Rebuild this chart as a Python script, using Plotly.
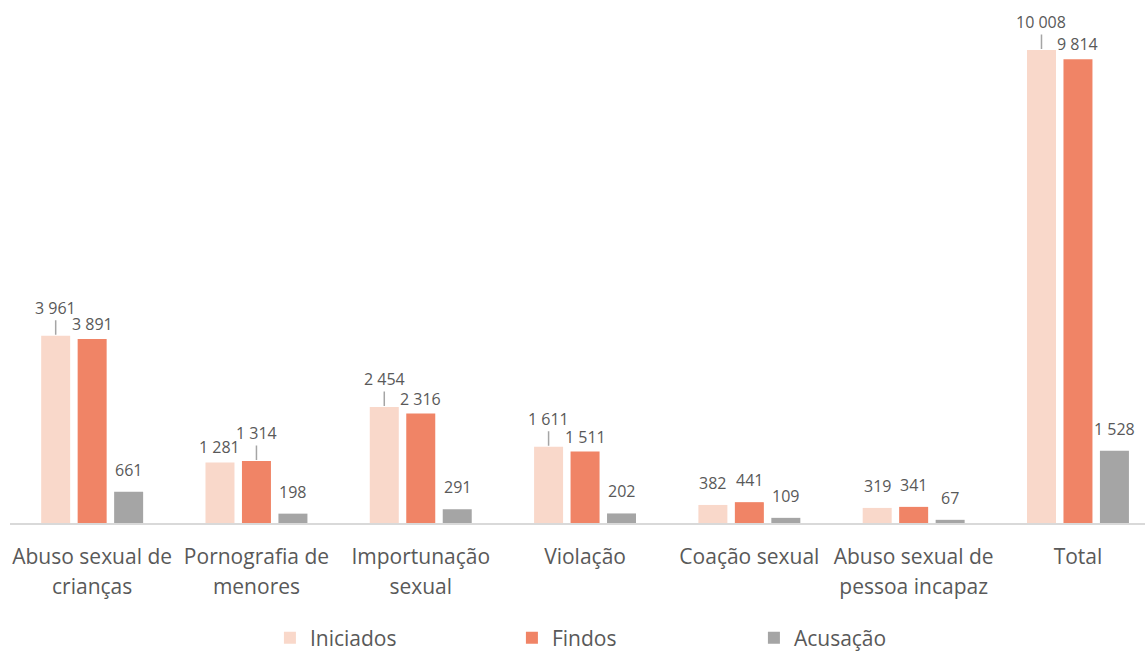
import plotly.graph_objects as go

categories = ["Abuso sexual de<br>crianças", "Pornografia de<br>menores", "Importunação<br>sexual",
              "Violação", "Coação sexual", "Abuso sexual de<br>pessoa incapaz", "Total"]
iniciados = [3961, 1281, 2454, 1611, 382, 319, 10008]
findos = [3891, 1314, 2316, 1511, 441, 341, 9814]
acusacao = [661, 198, 291, 202, 109, 67, 1528]
series_names = ["Iniciados", "Findos", "Acusação"]
colors = ["#F9D8CA", "#F08466", "#A5A5A5"]

# labels that use a leader line: (series index, category index)
leader = {(0, 0), (0, 2), (0, 3), (0, 6), (1, 1)}
# labels pushed closer to their bar because of a neighbour
close = {(1, 0), (1, 2), (1, 3), (1, 6), (0, 1)}

BARGAP = 0.334
GROUPGAP = 0.205
TXT = "#595959"
FONT = "Open Sans"
TICK_SIZE = 21

line1 = [c.split("<br>")[0] for c in categories]
line2 = [c.split("<br>")[1] if "<br>" in c else "" for c in categories]

x = list(range(len(categories)))
fig = go.Figure()
all_series = [iniciados, findos, acusacao]
for name, vals, col in zip(series_names, all_series, colors):
    fig.add_trace(go.Bar(x=x, y=vals, name=name, marker=dict(color=col, line=dict(width=0)),
                         hoverinfo="skip"))
# carrier for the second line of the category labels
fig.add_trace(go.Scatter(x=x, y=[None] * len(x), xaxis="x2", mode="markers",
                         showlegend=False, hoverinfo="skip"))

def fmt(v):
    return f"{v:,}".replace(",", " ")

annotations = []
for s, vals in enumerate(all_series):
    for i, v in enumerate(vals):
        xp = i + (s - 1) * (1 - BARGAP) / 3
        if (s, i) in leader:
            annotations.append(dict(x=xp, y=v, xref="x", yref="y", text=fmt(v),
                                    showarrow=True, arrowhead=0, arrowwidth=1.5,
                                    arrowcolor="#A5A5A5", ax=0, ay=-28, standoff=1,
                                    font=dict(family=FONT, size=16, color=TXT)))
        else:
            off = 15 if (s, i) in close else 22
            annotations.append(dict(x=xp, y=v, xref="x", yref="y", text=fmt(v),
                                    showarrow=False, yshift=off, yanchor="middle",
                                    font=dict(family=FONT, size=16, color=TXT)))

fig.update_layout(
    width=1145, height=653,
    margin=dict(l=10, r=0, t=10, b=130, autoexpand=False),
    paper_bgcolor="white", plot_bgcolor="white",
    barmode="group", bargap=BARGAP, bargroupgap=GROUPGAP,
    font=dict(family=FONT, color=TXT),
    xaxis=dict(tickmode="array", tickvals=x, ticktext=line1, range=[-0.5, 6.408],
               automargin=False,
               showgrid=False, zeroline=False, showline=True, linecolor="#D9D9D9", linewidth=1.5,
               ticks="", ticklabelstandoff=14, tickfont=dict(family=FONT, size=TICK_SIZE, color=TXT)),
    xaxis2=dict(tickmode="array", tickvals=x, ticktext=line2, matches="x", overlaying="x",
                side="bottom", automargin=False, showgrid=False, zeroline=False, showline=False,
                ticks="", ticklabelstandoff=49, tickfont=dict(family=FONT, size=TICK_SIZE, color=TXT)),
    yaxis=dict(range=[0, 10855], visible=False),
    showlegend=True,
    legend=dict(orientation="h", x=0.229, xanchor="left", y=-0.2243, yanchor="middle",
                font=dict(family=FONT, size=21, color=TXT),
                entrywidth=197, entrywidthmode="pixels", itemclick=False),
    annotations=annotations,
)

fig.write_html("out.html", config={"displayModeBar": False},
               post_script="document.body.style.margin='0';document.body.style.padding='0';")
